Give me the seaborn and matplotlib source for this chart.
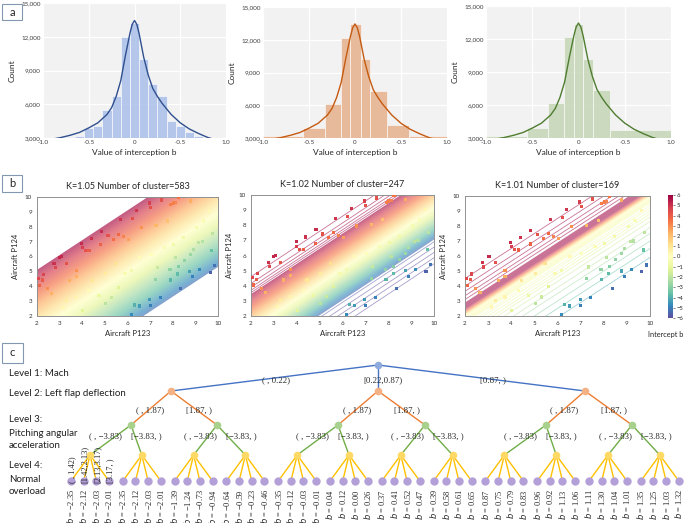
import numpy as np
import matplotlib.pyplot as plt
import matplotlib.colors as mcolors
from matplotlib.cm import ScalarMappable
from matplotlib.patches import Polygon, Rectangle
import seaborn as sns

# ---------------- panel a : histograms of the intercept b ----------------
a1_edges = [-0.75, -0.65, -0.55, -0.45, -0.35, -0.25, -0.15, -0.05,
            0.05, 0.15, 0.25, 0.35, 0.45, 0.55, 0.65, 0.75]
a1_counts = [3060, 3150, 3900, 4050, 5460, 6750, 12000, 13200,
             10050, 7800, 6750, 4500, 4100, 3500, 3200]
a2_edges = [-1.0, -0.8, -0.565, -0.33, -0.155, -0.05, 0.06, 0.165, 0.35, 0.59, 0.82, 1.0]
a2_counts = [3150, 3200, 3950, 6150, 12200, 13400, 10200, 7350, 4150, 3150, 3150]
a3_edges = [-1.0, -0.56, -0.33, -0.16, -0.047, 0.054, 0.16, 0.34, 1.0]
a3_counts = [3150, 3950, 6150, 12200, 13400, 10200, 7350, 3700]

kde_x = [-0.93, -0.8, -0.7, -0.6, -0.5, -0.4, -0.3, -0.25, -0.2, -0.15, -0.1, -0.05,
         -0.025, 0, 0.025, 0.05, 0.1, 0.15, 0.2, 0.25, 0.3, 0.4, 0.5, 0.6, 0.7, 0.8, 0.88]
kde_y = [2850, 3050, 3250, 3500, 3900, 4350, 5100, 5700, 6700, 8100, 10300, 12300,
         13100, 13450, 13100, 12300, 10200, 8600, 7400, 6700, 6100, 5100, 4350, 3800,
         3400, 3050, 2850]

a_xticks = [-1.0, -0.5, 0, 0.5, 1.0]
a_xticklabels = ['-1.0', '-0.5', '0', '-0.5', '1.0']
a_yticks = [3000, 6000, 9000, 12000, 15000]
a_yticklabels = ['3,000', '6,000', '9,000', '12,000', '15,000']

# ---------------- panel b : clusters of lines y = x + b ----------------
pts_x = [2.05, 2.25, 2.3, 2.1, 2.75, 2.8, 3.0, 3.07, 3.3, 3.98, 4.0, 4.13, 4.3, 4.4,
         4.84, 4.82, 5.14, 5.7, 6.22, 6.38, 6.97, 7.02, 7.5, 8.02, 8.25,
         6.18, 6.3, 6.52, 6.98, 7.0, 7.44, 7.9, 7.88, 8.22, 8.24, 8.36, 8.75, 8.88,
         9.2, 9.65, 9.7, 9.85, 8.5, 7.25, 8.9, 9.15, 9.3, 9.75, 8.12,
         5.6, 5.82, 6.03, 5.39, 6.61, 7.26, 7.76, 7.91, 8.12, 8.77, 2.46, 2.65, 3.44, 3.73,
         3.3, 3.73, 4.3, 4.74, 5.31, 5.89, 6.18, 6.54, 7.04, 7.62, 8.05, 8.48, 9.06, 9.35,
         4.45, 5.03, 5.46, 3.73, 3.15, 4.02, 5.03, 5.6, 7.33, 8.77, 9.64]
pts_y = [4.52, 4.42, 4.8, 4.05, 5.54, 5.27, 5.94, 5.99, 5.54, 6.9, 6.62, 6.42, 6.4, 7.22,
         7.7, 6.8, 7.42, 8.46, 8.55, 9.12, 9.6, 9.3, 9.8, 9.6, 9.98,
         2.08, 2.74, 2.67, 3.1, 2.71, 3.22, 4.42, 5.1, 4.82, 5.3, 3.84, 5.0, 4.63,
         5.1, 4.95, 6.4, 5.4, 5.75, 4.48, 6.5, 6.95, 7.0, 7.55, 5.92,
         7.5, 7.32, 7.17, 7.17, 7.95, 8.06, 8.39, 9.51, 9.62, 9.73, 3.83, 3.54, 4.38, 4.65,
         3.05, 3.27, 3.71, 3.38, 3.27, 4.83, 5.05, 5.94, 6.16, 6.61, 6.83, 7.28, 7.95, 8.39,
         4.38, 4.83, 5.5, 5.05, 2.6, 2.38, 2.82, 3.94, 5.27, 6.16, 9.06]

cluster_k = ['1.05', '1.02', '1.01']
cluster_n = [583, 247, 169]
b1_band = (3.1, -4.7)
b2_band = (1.45, -2.95)
b2_upper = [2.6, 2.15, 1.9, 1.7, 1.55]
b2_lower = [-3.1, -3.45, -3.8, -4.15, -4.55]
b3_band = (0.9, -0.5)
b3_upper = [2.5, 2.0, 1.65, 1.35, 1.1]
b3_lower = [-0.65, -0.8, -1.0, -1.2, -1.4, -1.7, -2.1, -2.5, -3.0, -3.5, -4.1]
cbar_ticks = [6, 5, 4, 3, 2, 1, 0, -1, -2, -3, -4, -5, -6]

# ---------------- panel c : regression tree ----------------
level_text = ['Level 1: Mach', 'Level 2: Left flap deflection', 'Level 3:',
              'Pitching angular', 'acceleration', 'Level 4:', 'Normal', 'overload']
mach_split = ['( , 0.22)', '[0.22,0.87)', '[0.87, )']
flap_split = ['( , 1.87)', '[1.87, )']
pitch_split = ['( , \u22123.83)', '[\u22123.83, )']
overload_split = ['( , 1.42)', '[1.42,2.13)', '[2.13,3.17)', '[3.17, )']
leaf_b = [-2.35, -2.12, -2.03, -2.01, -2.35, -2.12, -2.03, -2.01,
          -1.39, -1.24, -0.73, -0.94, -0.64, -0.59, -0.23, -0.46,
          -0.35, -0.12, -0.03, -0.01, 0.04, 0.12, 0.00, 0.26,
          0.37, 0.41, 0.52, 0.47, 0.39, 0.58, 0.61, 0.65,
          0.87, 0.75, 0.79, 0.83, 0.96, 0.92, 1.13, 1.06,
          1.11, 1.30, 1.04, 1.01, 1.35, 1.25, 1.03, 1.32]

# ---------------- figure ----------------
sns.set_style('white')
plt.rcParams['font.family'] = ['Lato', 'DejaVu Sans']
W, H = 685, 523
fig = plt.figure(figsize=(W / 100, H / 100), dpi=100)


def rect(l, t, r, b):
    return [l / W, 1 - b / H, (r - l) / W, (b - t) / H]


# --- a ---
a_specs = [
    ((43, 3, 226, 138), a1_edges, a1_counts, '#a9bfe8', '#2f4f8f'),
    ((263, 7, 447, 138), a2_edges, a2_counts, '#e4b08c', '#c55a11'),
    ((486, 6, 671, 138), a3_edges, a3_counts, '#c5d5b6', '#4f7d30'),
]
for box, edges, counts, fill, line in a_specs:
    ax = fig.add_axes(rect(*box))
    ax.set_facecolor('#f2f2f2')
    centers = [(edges[i] + edges[i + 1]) / 2 for i in range(len(counts))]
    sns.histplot(x=centers, weights=counts, bins=edges, ax=ax, color=fill,
                 alpha=0.85, edgecolor='#ffffff', linewidth=0.4)
    sns.lineplot(x=kde_x, y=kde_y, ax=ax, color=line, linewidth=1.0)
    ax.set_xlim(-1, 1)
    ax.set_ylim(3000, 15000)
    ax.set_xticks(a_xticks)
    ax.set_xticklabels(a_xticklabels)
    ax.set_yticks(a_yticks)
    ax.set_yticklabels(a_yticklabels)
    ax.tick_params(labelsize=4.5, length=0, pad=1.5, colors='#404040')
    ax.grid(True, color='white', linewidth=0.9)
    ax.set_axisbelow(True)
    for s in ax.spines.values():
        s.set_visible(False)
    ax.set_xlabel('Value of interception b', fontsize=6, labelpad=3)
    ax.set_ylabel('Count', fontsize=6, labelpad=4)

# --- b ---
cmap = plt.get_cmap('Spectral_r')
pt_norm = mcolors.Normalize(-5, 3.5)
pts_b = [y - x for x, y in zip(pts_x, pts_y)]
b_specs = [
    ((37, 197, 218, 316), b1_band, [], [], mcolors.Normalize(-5.2, 3.2), 0.66),
    ((251, 195, 434, 316), b2_band, b2_upper, b2_lower, mcolors.Normalize(-3.2, 1.5), 0.62),
    ((465, 196, 650, 316), b3_band, b3_upper, b3_lower,
     mcolors.TwoSlopeNorm(vcenter=0, vmin=-6, vmax=0.5), 0.55),
]
gx, gy = np.meshgrid(np.linspace(2, 10, 300), np.linspace(2, 10, 300))
field = gy - gx
for i, (box, band, upper, lower, norm, alpha) in enumerate(b_specs):
    ax = fig.add_axes(rect(*box))
    hi, lo = band
    im = ax.imshow(field, extent=[2, 10, 2, 10], origin='lower', cmap=cmap, norm=norm,
                   alpha=alpha, aspect='auto', interpolation='bilinear', zorder=1)
    clip = Polygon([(0, lo), (0, hi), (12, 12 + hi), (12, 12 + lo)], closed=True,
                   transform=ax.transData)
    im.set_clip_path(clip)
    for b in upper + lower:
        ax.plot([0, 12], [b, 12 + b], color=cmap(norm(b)), alpha=0.55, lw=0.6, zorder=2)
    sns.scatterplot(x=pts_x, y=pts_y, hue=pts_b, palette='Spectral_r', hue_norm=pt_norm,
                    marker='s', s=5, linewidth=0, legend=False, ax=ax, zorder=3)
    ax.set_xlim(2, 10)
    ax.set_ylim(2, 10)
    ax.set_xticks(range(2, 11))
    ax.set_yticks(range(2, 11))
    ax.tick_params(labelsize=4.5, length=2, width=0.5, pad=1.5, colors='#333333')
    for s in ax.spines.values():
        s.set_color('#909090')
        s.set_linewidth(0.7)
    ax.set_title(f'K={cluster_k[i]} Number of cluster={cluster_n[i]}', fontsize=6.5, pad=6)
    ax.set_xlabel('Aircraft P123', fontsize=5.5, labelpad=3)
    ax.set_ylabel('Aircraft P124', fontsize=5.5, labelpad=4)

cax = fig.add_axes(rect(668, 195, 673, 318))
cb = fig.colorbar(ScalarMappable(norm=mcolors.Normalize(-6, 6), cmap=cmap), cax=cax,
                  ticks=cbar_ticks)
cb.outline.set_visible(False)
cax.tick_params(labelsize=4.2, length=1.5, width=0.4, pad=1)

# --- c (drawn in figure pixel coordinates) ---
axc = fig.add_axes([0, 0, 1, 1])
axc.set_xlim(0, W)
axc.set_ylim(H, 0)
axc.axis('off')

for lab, (x0, y0, x1, y1) in zip('abc', [(2, 4, 22, 20), (2, 175, 22, 192), (2, 343, 23, 363)]):
    axc.add_patch(Rectangle((x0, y0), x1 - x0, y1 - y0, facecolor='white',
                            edgecolor='#8497b0', lw=0.8))
    axc.text((x0 + x1) / 2, (y0 + y1) / 2, lab, ha='center', va='center', fontsize=8)

axc.text(683, 335, 'Intercept b', fontsize=5.3, ha='right', va='center')

level_y = [374, 393, 420, 433, 446, 466, 479, 492]
for t, y in zip(level_text, level_y):
    axc.text(9, y, t, fontsize=7, ha='left', va='center', color='#202020')

serif = ['Liberation Serif', 'DejaVu Serif']
root = (378, 365)
orange_x, orange_y = [171, 378, 585], 391
green_x, green_y = [131, 217, 338, 425, 546, 632], 425
yellow_x, yellow_y = [90 + 51.8 * k for k in range(12)], 455
leaf_dx, leaf_y = [-19, -6.3, 6.3, 19], 481
leaf_x = [yx + d for yx in yellow_x for d in leaf_dx]

mach_pos = [(276, 380), (383, 380), (493, 380)]
for i, ox in enumerate(orange_x):
    axc.plot([root[0], ox], [root[1], orange_y], color='#4472c4', lw=1.0, zorder=1)
    axc.text(*mach_pos[i], mach_split[i], fontsize=6.3, family=serif, ha='center', va='center')
    for j in range(2):
        gx_ = green_x[2 * i + j]
        axc.plot([ox, gx_], [orange_y, green_y], color='#ed7d31', lw=1.0, zorder=1)
        mx, my = (ox + gx_) / 2, (orange_y + green_y) / 2
        axc.text(mx + (-1 if j == 0 else 5), my + 2, flap_split[j], fontsize=6.3,
                 family=serif, ha='center', va='center')
for g, gxx in enumerate(green_x):
    for j in range(2):
        yx = yellow_x[2 * g + j]
        axc.plot([gxx, yx], [green_y, yellow_y], color='#70ad47', lw=1.0, zorder=1)
        mx, my = (gxx + yx) / 2, (green_y + yellow_y) / 2
        axc.text(mx + (-5 if j == 0 else 10), my - 4, pitch_split[j], fontsize=6.3,
                 family=serif, ha='center', va='center')
for k, yx in enumerate(yellow_x):
    for d in leaf_dx:
        axc.plot([yx, yx + d], [yellow_y, leaf_y], color='#ffc000', lw=1.0, zorder=1)

axc.scatter([root[0]], [root[1]], s=30, color='#8faadc', zorder=3, linewidths=0)
axc.scatter(orange_x, [orange_y] * 3, s=30, color='#f4b183', zorder=3, linewidths=0)
axc.scatter(green_x, [green_y] * 6, s=30, color='#a9d18e', zorder=3, linewidths=0)
axc.scatter(yellow_x, [yellow_y] * 12, s=30, color='#ffd966', zorder=3, linewidths=0)
axc.scatter(leaf_x, [leaf_y] * len(leaf_x), s=36, color='#b4a0d8', zorder=3, linewidths=0)

for x, t in zip(leaf_x[:4], overload_split):
    axc.text(x + 1, 483, t, rotation=90, fontsize=6, family=serif, ha='center',
             va='bottom', zorder=4)
for x, v in zip(leaf_x, leaf_b):
    s = f'{v:.2f}'.replace('-', '\u2212')
    axc.text(x, 489, f'$b$ = {s}', rotation=90, fontsize=6, family=serif,
             ha='center', va='top')

fig.savefig('out.png', dpi=100)
